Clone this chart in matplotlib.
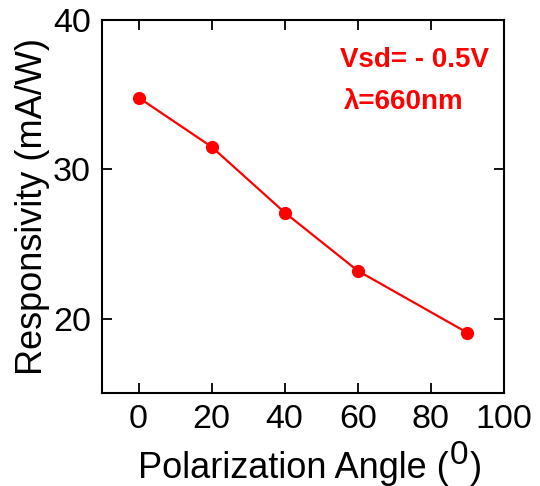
import matplotlib
matplotlib.use("Agg")
import matplotlib.pyplot as plt

# 데이터
angle = [0, 20, 40, 60, 90]
resp = [34.8, 31.5, 27.1, 23.2, 19.05]
x_ticks = [0, 20, 40, 60, 80, 100]
y_ticks = [20, 30, 40]

plt.rcParams['font.family'] = ['Liberation Sans', 'DejaVu Sans']

fig = plt.figure(figsize=(5.4, 4.86), dpi=100)
ax = fig.add_axes([0.189, 0.191, 0.744, 0.768])

ax.plot(angle, resp, color='#ff0000', lw=1.6, marker='o', ms=8.5)

ax.set_xlim(-10, 100)
ax.set_ylim(15, 40)
ax.set_xticks(x_ticks)
ax.set_yticks(y_ticks)
ax.tick_params(direction='in', length=7, width=1.3, labelsize=24.5,
               top=True, right=True, pad=8)
for s in ax.spines.values():
    s.set_linewidth(1.5)

LBL = 26
# x 라벨: "(" 까지만 라벨로, 위첨자 0 과 ")" 는 따로
xl = ax.set_xlabel('Polarization Angle (', fontsize=LBL, labelpad=11, ha='left')
ax.xaxis.label.set_x(0.09)
ax.set_ylabel('Responsivity (mA/W)', fontsize=LBL, labelpad=2)

ax.text(0.592, 0.893, 'Vsd= - 0.5V', transform=ax.transAxes, color='#ff0000',
        fontweight='bold', fontsize=20, va='center', ha='left')
ax.text(0.602, 0.78, 'λ=660nm', transform=ax.transAxes, color='#ff0000',
        fontweight='bold', fontsize=20, va='center', ha='left')

fig.canvas.draw()
bb = xl.get_window_extent()
tmp = fig.text(0, 100, 'Polarization Angle (', fontsize=LBL, va='baseline',
               transform=None)
fig.canvas.draw()
tb = tmp.get_window_extent()
tmp.remove()
base = bb.y0 + (100 - tb.y0)
sup = fig.text(bb.x1 + 1, base + 14, '0', fontsize=LBL - 2,
               va='baseline', ha='left', transform=None)
fig.canvas.draw()
sb = sup.get_window_extent()
fig.text(sb.x1 + 1, base, ')', fontsize=LBL, va='baseline', ha='left',
         transform=None)

fig.savefig('out.png', dpi=100)
